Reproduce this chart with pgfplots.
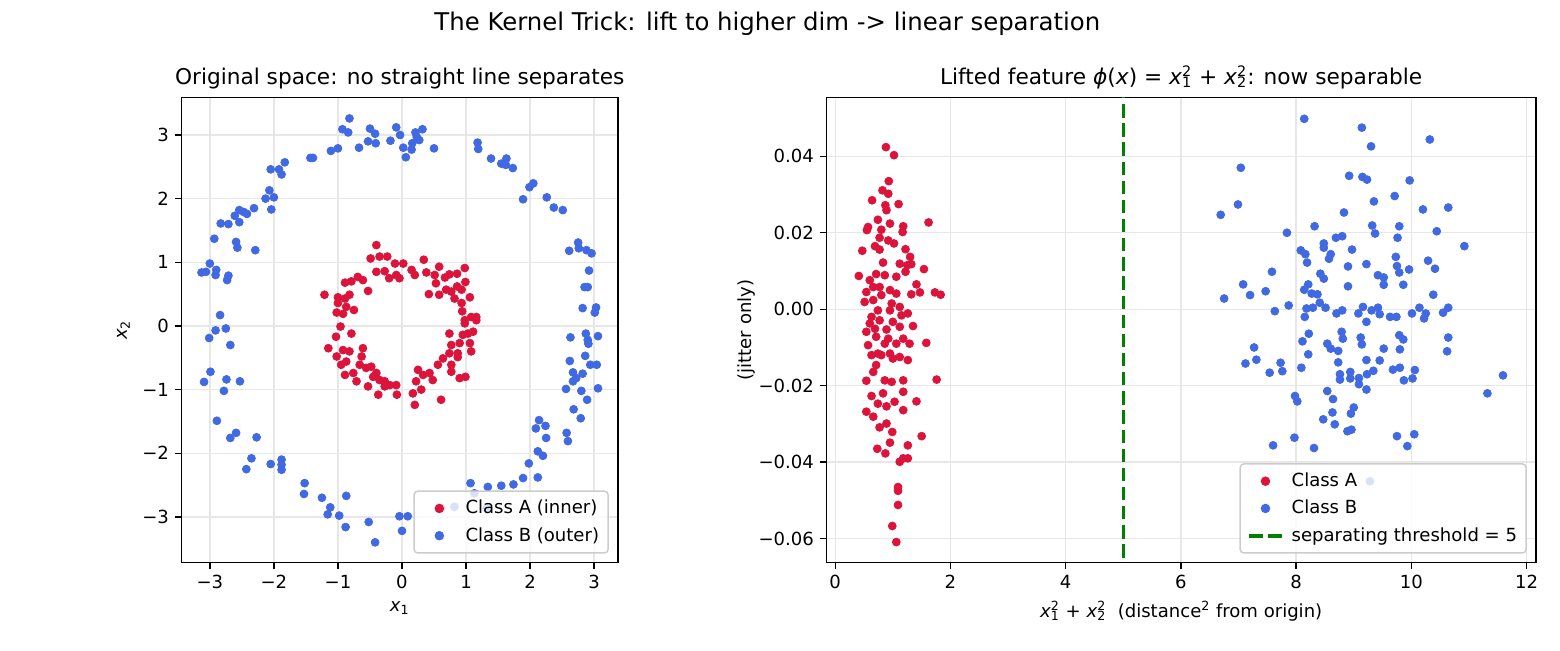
\documentclass[border=0pt]{standalone}
\usepackage{fontspec}
\setmainfont{DejaVu Sans}
\usepackage{pgfplots}
\pgfplotsset{compat=1.18}
\definecolor{cA}{RGB}{220,20,60}
\definecolor{cB}{RGB}{65,105,225}
\definecolor{gridc}{RGB}{231,231,231}
\definecolor{legc}{RGB}{204,204,204}
\definecolor{thr}{RGB}{0,128,0}
\newcommand{\xsq}[1]{\textit{x}\rlap{\textsuperscript{2}}\textsubscript{#1}}
\pgfplotsset{
  common/.style={
    scale only axis,
    axis line style={line width=0.8pt},
    tick align=outside, tick pos=left,
    major tick length=3.5pt,
    every tick/.style={black, line width=0.8pt},
    grid=major,
    grid style={gridc, line width=0.8pt},
    tick label style={font=\fontsize{10}{12}\selectfont},
    label style={font=\fontsize{10}{12}\selectfont},
    title style={font=\fontsize{12}{14}\selectfont, yshift=-5pt},
    legend style={font=\fontsize{10}{12}\selectfont, draw=legc, line width=0.8pt, fill=white, fill opacity=0.8, text opacity=1, draw opacity=1, rounded corners=2pt, at={(1,0)}, xshift=-5pt, yshift=5pt, anchor=south east, inner sep=3pt, row sep=2pt},
    legend cell align=left,
    scaled ticks=false,
  },
  ptsA/.style={only marks, mark=*, mark size=2.2pt, color=cA, mark options={line width=0.4pt}, mleg},
  ptsB/.style={only marks, mark=*, mark size=2.2pt, color=cB, mark options={line width=0.4pt}, mleg},
  mleg/.style={legend image code/.code={\path[draw=none,fill=none] (-3pt,-3pt) rectangle (20.5pt,3pt); \draw[##1, opacity=1, fill opacity=1, draw opacity=1, mark options={opacity=1, fill opacity=1}] plot coordinates {(8pt,0pt)};}},
  lleg/.style={legend image code/.code={\path[draw=none,fill=none] (-3pt,-3pt) rectangle (20.5pt,3pt); \draw[##1, opacity=1, draw opacity=1] (-1pt,0pt) -- (18pt,0pt);}},
}
\begin{document}
\begin{tikzpicture}
\path[use as bounding box] (0,0) rectangle (864pt,360pt);
\node[font=\fontsize{13.5}{16}\selectfont] at (425pt,347pt) {The Kernel Trick: lift to higher dim -> linear separation};
\begin{axis}[common, at={(100.6pt,48.35pt)}, anchor=south west, width=241.6pt, height=257.7pt,
  xmin=-3.44, xmax=3.37, ymin=-3.72, ymax=3.59,
  xtick={-3,-2,-1,0,1,2,3}, xticklabels={−3,−2,−1,0,1,2,3},
  ytick={-3,-2,-1,0,1,2,3}, yticklabels={−3,−2,−1,0,1,2,3},
  xlabel={\textit{x}\textsubscript{1}}, ylabel={\textit{x}\textsubscript{2}},
  title={Original space: no straight line separates}]
\addplot[ptsA] coordinates {
(-0.40,1.27)(-0.49,1.06)(-0.35,1.09)(-0.23,1.09)(-0.40,0.85)(-0.27,0.86)(-0.20,0.75)(-0.69,0.77)(-0.89,0.68)(-0.79,0.70)(-0.61,0.72)(-0.53,0.55)(-1.21,0.49)(-1.00,0.45)(-0.89,0.43)(-0.82,0.49)(-1.00,0.36)(-0.87,0.30)(-0.75,0.25)(-1.02,0.21)(-0.92,0.19)(-0.96,-0.01)
(-0.11,0.98)(0.02,0.98)(-0.09,0.80)(-0.04,0.75)(0.15,0.88)(0.20,0.80)(0.34,1.04)(0.38,0.84)(0.51,0.80)(0.58,0.93)(0.67,0.76)(0.74,0.81)(0.86,0.82)(0.98,0.91)(0.99,0.69)(0.53,0.67)(0.42,0.50)(0.58,0.49)(0.69,0.57)(0.77,0.54)(0.86,0.62)(0.93,0.57)(0.82,0.43)(0.93,0.36)(1.06,0.45)(0.94,0.23)(0.98,0.09)(1.08,0.14)(1.16,0.14)
(-1.03,-0.17)(-0.79,-0.12)(-1.15,-0.35)(-1.02,-0.48)(-0.92,-0.38)(-0.82,-0.40)(-0.87,-0.56)(-0.95,-0.61)(-0.89,-0.77)(-0.76,-0.74)(-0.61,-0.35)(-0.63,-0.48)(-0.66,-0.61)(-0.56,-0.66)(-0.48,-0.64)(-0.40,-0.74)(-0.45,-0.80)(-0.71,-0.87)(-0.53,-0.95)(-0.35,-0.85)(-0.37,-1.08)(-0.27,-0.95)(-0.19,-0.93)
(-0.27,-0.87)(-0.09,-0.93)(-0.08,-1.08)(0.17,-1.06)(0.20,-1.24)(0.22,-0.87)(0.25,-0.69)(0.30,-1.00)(0.33,-0.77)(0.43,-0.74)(0.48,-0.85)(0.56,-0.61)(0.61,-1.16)(0.64,-0.51)(0.74,-0.43)(0.77,-0.61)(0.77,-0.72)(0.87,-0.43)(0.90,-0.82)(0.99,-0.80)(0.87,-0.49)(0.90,-0.27)(0.77,-0.30)(0.74,-0.12)(0.95,-0.14)(1.06,-0.27)(1.08,-0.40)(1.03,-0.12)(1.11,-0.09)(0.98,0.04)(1.16,0.09)
};
\addlegendentry{Class A (inner)}
\addplot[ptsB] coordinates {
(-0.82,3.26)(-0.93,3.09)(-0.84,3.04)(-0.50,3.10)(-0.42,3.02)(-0.53,2.90)(-0.41,2.87)(-0.67,2.80)(-1.00,2.79)(-1.11,2.75)(-1.39,2.64)(-1.43,2.64)(-1.83,2.57)(-1.92,2.46)(-2.05,2.46)(-1.88,2.38)(-2.07,2.13)(-2.13,2.00)(-2.00,2.02)(-2.04,1.83)(-2.31,1.85)(-2.47,1.79)(-2.54,1.82)(-2.61,1.73)(-2.42,1.76)(-2.54,1.63)(-2.71,1.60)(-2.83,1.61)(-2.93,1.37)(-2.59,1.32)(-2.57,1.23)(-2.29,1.19)(-3.00,0.98)(-3.13,0.84)(-3.06,0.85)(-2.90,0.88)(-2.91,0.80)(-2.71,0.79)(-2.73,0.72)(-2.84,0.17)(-2.75,-0.04)(-2.91,-0.07)
(-0.09,3.12)(-0.18,2.91)(-0.03,3.00)(0.02,2.80)(0.06,2.65)(0.15,2.77)(0.16,2.87)(0.21,3.04)(0.32,3.09)(0.27,2.92)(0.23,2.97)(0.50,2.79)(1.18,2.88)(1.19,2.78)(1.39,2.63)(1.55,2.55)(1.63,2.63)(1.62,2.53)(1.73,2.48)(1.99,2.18)(2.05,2.24)(1.89,1.99)(2.26,2.02)(2.37,1.86)(2.51,1.82)(2.61,1.18)(2.75,1.31)(2.76,1.22)(2.88,1.19)(2.96,1.14)(2.92,0.87)(2.85,0.61)(2.90,0.61)(2.82,0.28)(3.03,0.29)(3.01,0.21)
(-3.01,-0.19)(-2.68,-0.30)(-2.99,-0.72)(-3.09,-0.88)(-2.74,-0.84)(-2.78,-1.02)(-2.53,-0.87)(-2.89,-1.49)(-2.59,-1.68)(-2.68,-1.76)(-2.27,-1.75)(-2.35,-2.08)(-2.43,-2.25)(-2.05,-2.17)(-1.88,-2.10)(-1.88,-2.18)(-1.88,-2.26)(-1.52,-2.47)(-1.53,-2.64)(-1.25,-2.70)(-1.12,-2.85)(-1.16,-2.96)(-0.98,-2.98)(-0.87,-2.67)(-0.88,-3.16)(-0.52,-3.08)(-0.42,-3.40)
(2.63,-0.18)(2.87,-0.12)(2.90,-0.22)(2.91,-0.28)(3.06,-0.16)(2.62,-0.55)(2.67,-0.73)(2.86,-0.47)(2.94,-0.61)(3.04,-0.61)(2.82,-0.75)(2.72,-0.82)(2.67,-0.87)(2.56,-0.99)(2.80,-1.02)(2.89,-1.16)(3.06,-0.98)(2.68,-1.31)(2.79,-1.45)(2.14,-1.48)(2.09,-1.61)(2.24,-1.57)(2.25,-1.76)(2.57,-1.68)(2.59,-1.81)(2.12,-1.97)(2.20,-2.04)(1.98,-2.16)(2.12,-2.38)(1.89,-2.39)(1.74,-2.49)(1.55,-2.51)(1.34,-2.53)(1.07,-2.47)(1.13,-2.63)(-0.04,-2.99)(0.09,-2.99)(0.00,-3.22)(0.61,-2.86)(0.82,-2.84)(1.32,-2.86)
};
\addlegendentry{Class B (outer)}
\end{axis}
\begin{axis}[common, at={(457.8pt,48.35pt)}, anchor=south west, width=392.8pt, height=257.7pt,
  xmin=-0.15, xmax=12.16, ymin=-0.0663, ymax=0.0554,
  xtick={0,2,4,6,8,10,12}, xticklabels={0,2,4,6,8,10,12},
  ytick={-0.06,-0.04,-0.02,0,0.02,0.04}, yticklabels={−0.06,−0.04,−0.02,0.00,0.02,0.04},
  xlabel={\xsq{1} + \xsq{2}\ \ (distance\textsuperscript{2} from origin)}, ylabel={(jitter only)},
  ylabel style={yshift=-5pt},
  title={Lifted feature \textit{ϕ}(\textit{x}) = \xsq{1} + \xsq{2}: now separable}]
\addplot[ptsA] coordinates {
(0.88,0.0424)(1.02,0.0403)(0.93,0.0335)(0.82,0.0311)(0.92,0.0302)(0.64,0.0285)(1.10,0.0275)(0.87,0.0272)(0.89,0.0259)(0.74,0.0234)(0.95,0.0224)(1.62,0.0227)(0.57,0.0215)(0.55,0.0207)(0.80,0.0208)(1.18,0.0217)(1.17,0.0202)(0.77,0.0187)(0.92,0.0180)(1.02,0.0172)(0.69,0.0165)(0.77,0.0156)(0.47,0.0153)(1.22,0.0157)(1.30,0.0137)(0.83,0.0122)(1.12,0.0119)(1.25,0.0115)(1.32,0.0118)(1.54,0.0105)(1.22,0.0098)(0.41,0.0087)(0.60,0.0076)(0.71,0.0092)(0.86,0.0089)(1.06,0.0085)(1.41,0.0065)(0.66,0.0058)(0.77,0.0058)(0.95,0.0050)(1.06,0.0041)(1.32,0.0039)(1.47,0.0044)(1.73,0.0044)(1.83,0.0038)(0.54,0.0045)(0.80,0.0037)(0.51,0.0019)(0.66,0.0024)(0.98,0.0015)(1.12,0.0006)(0.74,-0.0003)(0.95,-0.0003)(1.26,-0.0011)(1.15,-0.0016)(0.63,-0.0020)(0.77,-0.0029)(1.00,-0.0033)(0.60,-0.0037)(1.35,-0.0044)(1.12,-0.0046)(0.69,-0.0051)(0.89,-0.0053)(0.54,-0.0059)(0.71,-0.0072)(0.92,-0.0077)(1.18,-0.0077)(0.86,-0.0090)(1.06,-0.0090)(0.57,-0.0094)(1.29,-0.0090)(1.58,-0.0088)
(0.74,-0.0116)(0.63,-0.0120)(0.80,-0.0120)(0.95,-0.0116)(1.00,-0.0129)(1.12,-0.0125)(1.26,-0.0133)(0.71,-0.0146)(0.66,-0.0164)(0.54,-0.0187)(0.86,-0.0186)(0.98,-0.0190)(1.18,-0.0186)(1.76,-0.0184)(0.63,-0.0227)(0.83,-0.0220)(1.18,-0.0216)(1.41,-0.0241)(0.74,-0.0247)(0.89,-0.0254)(1.03,-0.0242)(1.18,-0.0264)(0.54,-0.0268)(0.66,-0.0281)(0.77,-0.0309)(0.89,-0.0299)(0.99,-0.0321)(1.50,-0.0332)(0.95,-0.0349)(1.26,-0.0356)(0.73,-0.0365)(0.87,-0.0377)(1.12,-0.0399)(1.18,-0.0390)(1.26,-0.0390)(1.09,-0.0465)(1.09,-0.0475)(1.09,-0.0512)(0.99,-0.0567)(1.06,-0.0609)
};
\addlegendentry{Class A}
\addplot[ptsB] coordinates {
(8.14,0.0498)(9.14,0.0475)(9.30,0.0426)(7.04,0.0370)(8.92,0.0349)(9.15,0.0346)(9.23,0.0339)(6.99,0.0274)(6.69,0.0247)(8.83,0.0253)(8.32,0.0217)(7.84,0.0200)(8.69,0.0187)(8.80,0.0191)(8.48,0.0172)(8.48,0.0161)(8.08,0.0154)(8.16,0.0144)(8.19,0.0122)(8.97,0.0156)(8.60,0.0144)(8.57,0.0132)(8.90,0.0112)(9.22,0.0118)(7.58,0.0098)(8.42,0.0093)(8.48,0.0080)(7.08,0.0065)(7.20,0.0037)(7.47,0.0047)(6.75,0.0028)(8.21,0.0065)(8.14,0.0051)(8.27,0.0041)(8.37,0.0039)(8.90,0.0060)(7.87,0.0010)(7.63,-0.0005)(8.41,0.0017)(8.18,0.0002)(8.29,0.0004)(8.51,0.0004)(8.70,-0.0011)(8.80,-0.0003)(9.08,-0.0011)(9.16,0.0006)(8.15,-0.0020)
(10.32,0.0444)(9.97,0.0337)(9.71,0.0296)(9.35,0.0282)(10.20,0.0261)(10.64,0.0266)(9.32,0.0219)(9.79,0.0217)(9.37,0.0198)(9.76,0.0187)(10.44,0.0204)(10.92,0.0165)(9.73,0.0137)(9.75,0.0113)(9.79,0.0096)(9.96,0.0104)(10.29,0.0127)(10.41,0.0106)(9.42,0.0089)(9.52,0.0083)(9.52,0.0064)(9.86,0.0064)(10.38,0.0038)(9.31,-0.0003)(9.42,0.0004)(9.45,-0.0013)(9.63,-0.0020)(9.74,-0.0020)(10.01,-0.0011)(10.14,0.0004)(10.25,-0.0011)(10.55,-0.0009)(10.64,0.0004)
(9.22,-0.0033)(8.22,-0.0064)(8.11,-0.0084)(8.79,-0.0059)(8.81,-0.0077)(8.54,-0.0090)(8.60,-0.0103)(8.73,-0.0109)(9.12,-0.0074)(9.14,-0.0092)(7.27,-0.0100)(7.12,-0.0142)(7.31,-0.0132)(7.73,-0.0140)(7.76,-0.0162)(7.54,-0.0166)(8.09,-0.0153)(8.21,-0.0118)(8.73,-0.0139)(8.76,-0.0170)(8.76,-0.0184)(8.94,-0.0164)(8.94,-0.0181)(9.09,-0.0180)(9.09,-0.0196)(9.22,-0.0133)(9.23,-0.0170)(9.22,-0.0210)(7.98,-0.0227)(8.02,-0.0241)(8.54,-0.0214)(8.64,-0.0235)(8.63,-0.0270)(8.47,-0.0288)(8.67,-0.0301)(9.00,-0.0257)(8.95,-0.0273)(8.89,-0.0319)(8.96,-0.0315)(7.97,-0.0336)(7.60,-0.0356)(8.31,-0.0363)
(10.22,-0.0024)(9.79,-0.0068)(9.86,-0.0079)(9.52,-0.0103)(9.80,-0.0105)(10.64,-0.0074)(10.62,-0.0110)(9.45,-0.0134)(9.34,-0.0161)(9.68,-0.0158)(9.80,-0.0153)(9.87,-0.0186)(10.02,-0.0181)(10.06,-0.0159)(11.59,-0.0173)(11.32,-0.0220)(9.75,-0.0332)(10.05,-0.0327)(9.93,-0.0358)(9.28,-0.0450)
};
\addlegendentry{Class B}
\addplot[thr, line width=2pt, dash pattern=on 7.4pt off 3.2pt, lleg] coordinates {(5,-0.07) (5,0.06)};
\addlegendentry{separating threshold = 5}
\end{axis}
\end{tikzpicture}
\end{document}
